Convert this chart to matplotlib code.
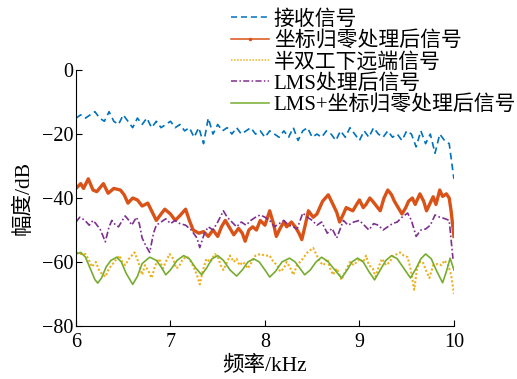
import matplotlib
matplotlib.use("Agg")
import matplotlib.pyplot as plt

plt.rcParams['font.family'] = ['Liberation Serif', 'Noto Sans CJK SC']
plt.rcParams['axes.unicode_minus'] = True

# 接收信号
f_rx = [6.00, 6.05, 6.10, 6.15, 6.20, 6.25, 6.30, 6.35, 6.40, 6.45, 6.50, 6.55, 6.60, 6.65,
        6.70, 6.75, 6.80, 6.85, 6.90, 6.95, 7.00, 7.05, 7.10, 7.15, 7.20, 7.25, 7.30, 7.35,
        7.40, 7.45, 7.50, 7.55, 7.60, 7.65, 7.70, 7.75, 7.80, 7.85, 7.90, 7.95, 8.00, 8.05,
        8.10, 8.15, 8.20, 8.25, 8.30, 8.35, 8.40, 8.45, 8.50, 8.55, 8.60, 8.65, 8.70, 8.75,
        8.80, 8.85, 8.90, 8.95, 9.00, 9.05, 9.10, 9.15, 9.20, 9.25, 9.30, 9.35, 9.40, 9.45,
        9.50, 9.55, 9.60, 9.65, 9.70, 9.75, 9.80, 9.85, 9.90, 9.95, 10.0]
rx = [-15, -14, -15, -14, -13, -15, -16, -13, -16, -17, -14, -16, -18, -15,
      -17, -15, -18, -16, -18, -17, -16, -18, -17, -19, -18, -21, -18, -23,
      -15, -20, -17, -19, -18, -20, -18, -20, -19, -18, -20, -19, -21, -19,
      -20, -21, -19, -21, -18, -22, -19, -18, -21, -20, -21, -19, -20, -22,
      -19, -21, -18, -20, -22, -19, -21, -18, -20, -21, -19, -21, -20, -22,
      -19, -20, -24, -19, -23, -20, -26, -20, -22, -23, -34]

# 坐标归零处理后信号
f_cz = [6.00, 6.05, 6.08, 6.13, 6.18, 6.22, 6.29, 6.34, 6.40, 6.47, 6.51, 6.55, 6.60, 6.65,
        6.70, 6.76, 6.80, 6.85, 6.90, 6.94, 7.00, 7.05, 7.10, 7.16, 7.20, 7.24, 7.30, 7.35,
        7.40, 7.45, 7.50, 7.54, 7.58, 7.62, 7.67, 7.72, 7.76, 7.79, 7.83, 7.87, 7.91, 7.95,
        8.00, 8.05, 8.09, 8.12, 8.16, 8.20, 8.23, 8.28, 8.32, 8.36, 8.39, 8.43, 8.46, 8.51,
        8.55, 8.58, 8.61, 8.67, 8.72, 8.76, 8.79, 8.83, 8.86, 8.93, 8.97, 9.00, 9.04, 9.07,
        9.11, 9.14, 9.18, 9.22, 9.26, 9.30, 9.34, 9.37, 9.41, 9.45, 9.49, 9.52, 9.56, 9.59,
        9.64, 9.68, 9.71, 9.75, 9.78, 9.81, 9.85, 9.88, 9.92, 9.95, 9.97, 10.0]
cz = [-37, -35.5, -37, -34, -37.5, -38, -35.5, -38.5, -37, -37.5, -39, -41.6, -40, -40.6,
      -42.5, -41.6, -44, -47, -45, -43.5, -45, -47, -45.5, -43.5, -47, -50, -51, -50.5,
      -52, -50, -52, -49, -47, -49, -51.5, -49.5, -51, -53.5, -50, -49, -50, -47,
      -48.5, -44, -48, -52, -49.5, -47.5, -49, -47.5, -49, -51, -53, -48, -44, -46,
      -45, -43, -41, -39, -42, -44.5, -47.5, -45, -43, -44, -42, -40.6, -43, -42,
      -40, -41, -42.5, -44, -40, -37.5, -39, -41, -43, -45, -43, -41, -40, -42,
      -38.7, -41, -44, -41.5, -39.6, -42, -37.5, -39.5, -38.7, -40, -44, -52]

# 半双工下远端信号
f_hd = [6.00, 6.05, 6.10, 6.13, 6.17, 6.21, 6.25, 6.31, 6.35, 6.38, 6.42, 6.46, 6.49, 6.52,
        6.56, 6.59, 6.62, 6.66, 6.70, 6.73, 6.77, 6.80, 6.84, 6.88, 6.92, 6.95, 6.99, 7.03,
        7.06, 7.09, 7.13, 7.18, 7.22, 7.25, 7.28, 7.31, 7.34, 7.38, 7.42, 7.47, 7.51, 7.53,
        7.56, 7.60, 7.63, 7.67, 7.70, 7.73, 7.77, 7.82, 7.86, 7.90, 7.95, 8.00, 8.05, 8.09,
        8.13, 8.16, 8.20, 8.23, 8.27, 8.30, 8.34, 8.37, 8.40, 8.45, 8.51, 8.55, 8.58, 8.62,
        8.66, 8.69, 8.72, 8.76, 8.81, 8.85, 8.90, 8.94, 8.97, 9.00, 9.04, 9.07, 9.10, 9.14,
        9.17, 9.21, 9.24, 9.28, 9.32, 9.36, 9.40, 9.43, 9.47, 9.51, 9.54, 9.58, 9.61, 9.64,
        9.67, 9.71, 9.74, 9.78, 9.83, 9.87, 9.90, 9.94, 9.97, 10.0]
hd = [-57, -57.5, -57.5, -59, -61.5, -60, -63, -64.6, -62, -61, -59.4, -58, -60, -61,
      -59, -58, -57, -60, -64, -61, -63, -65, -61, -59, -62, -60, -57.5, -59,
      -62, -61.5, -59, -58.5, -60, -62, -64, -67, -63, -59, -60, -57.5, -59, -61,
      -62.5, -60, -58, -60, -59, -61, -60, -62, -60, -58, -57.5, -58, -58, -60,
      -61, -63, -62, -60, -62, -64, -61, -60, -59, -57, -55.6, -58, -60, -61,
      -59, -62, -64, -62, -65.6, -63, -60, -61, -60, -59, -60, -58, -61, -62,
      -64.6, -61, -59, -61, -60, -58, -57.5, -57, -58, -58.5, -62, -68.7, -62, -60,
      -60, -63, -65, -61, -60.6, -61, -59.5, -61, -64, -70]

# LMS处理后信号
f_lms = [6.00, 6.04, 6.07, 6.11, 6.14, 6.18, 6.21, 6.26, 6.31, 6.35, 6.38, 6.42, 6.45, 6.49,
         6.52, 6.56, 6.59, 6.64, 6.67, 6.70, 6.74, 6.78, 6.82, 6.85, 6.90, 6.95, 7.00, 7.05,
         7.10, 7.16, 7.22, 7.28, 7.31, 7.36, 7.40, 7.45, 7.50, 7.56, 7.60, 7.65, 7.70, 7.75,
         7.80, 7.85, 7.90, 7.95, 8.00, 8.05, 8.10, 8.15, 8.20, 8.25, 8.30, 8.34, 8.40, 8.45,
         8.50, 8.55, 8.60, 8.66, 8.71, 8.76, 8.83, 8.88, 8.94, 9.00, 9.05, 9.10, 9.15, 9.20,
         9.25, 9.30, 9.35, 9.40, 9.45, 9.51, 9.55, 9.60, 9.65, 9.70, 9.75, 9.80, 9.85, 9.90,
         9.95, 9.99]
lms = [-47.5, -46, -46.5, -47.5, -48.5, -47, -48, -50, -53.7, -49, -47, -48.5, -49, -47,
       -45.6, -47, -48.5, -46, -48, -52.5, -55, -57, -51, -48.5, -47.5, -46.5, -48, -47,
       -48, -48.5, -50, -52.5, -55.5, -51, -49, -50, -47.5, -44, -46, -47.5, -49, -47.5,
       -48.5, -47, -46, -45.3, -46, -47, -49, -48, -47, -48.5, -49, -49.7, -44.7, -46,
       -47, -48.5, -47.5, -51, -49.5, -52.5, -47, -48.5, -47.5, -47, -48.5, -50, -48, -48.5,
       -50, -49, -48, -47.5, -46, -44.7, -47, -52, -50, -49.7, -48.5, -45.3, -46, -46.4,
       -47, -59]

# LMS+坐标归零处理后信号
f_lc = [6.00, 6.05, 6.10, 6.15, 6.20, 6.23, 6.27, 6.32, 6.37, 6.43, 6.48, 6.53, 6.60, 6.65,
        6.70, 6.78, 6.85, 6.90, 6.95, 7.00, 7.07, 7.14, 7.20, 7.27, 7.33, 7.38, 7.44, 7.50,
        7.56, 7.63, 7.70, 7.76, 7.82, 7.88, 7.94, 8.00, 8.05, 8.11, 8.18, 8.26, 8.32, 8.37,
        8.42, 8.48, 8.54, 8.60, 8.67, 8.74, 8.81, 8.87, 8.92, 8.98, 9.04, 9.10, 9.16, 9.22,
        9.28, 9.34, 9.40, 9.47, 9.54, 9.60, 9.65, 9.70, 9.76, 9.82, 9.88, 9.92, 9.96, 10.0]
lc = [-57.5, -57, -58.5, -62, -65.5, -66.6, -65, -61.5, -59.5, -58.5, -60, -63.5, -67, -64.5,
      -60.5, -58.5, -59.5, -61.5, -64, -62.5, -59.5, -58, -59, -62, -64, -62, -59, -58,
      -59.5, -62.5, -64.4, -62.5, -60, -59, -60, -62.5, -64.7, -63, -60, -58.8, -60, -62,
      -64, -62.5, -60, -58.5, -60, -62.5, -65, -62.5, -60, -58.8, -60, -63, -65.6, -62.5,
      -59.5, -58, -59, -62, -65, -62, -59, -57.5, -59, -63, -66.5, -63, -58.8, -62.5]

labels = ['接收信号', '坐标归零处理后信号', '半双工下远端信号', 'LMS处理后信号', 'LMS+坐标归零处理后信号']
x_ticks = [6, 7, 8, 9, 10]
y_ticks = [-80, -60, -40, -20, 0]

fig = plt.figure(figsize=(5.17, 3.79), dpi=100)
ax = fig.add_axes([0.147, 0.14, 0.731, 0.675])

ax.plot(f_rx, rx, color='#0072BD', linestyle=(0, (4, 2.5)), linewidth=1.2, label=labels[0])
ax.plot(f_cz, cz, color='#D95319', linestyle='-', linewidth=2.4, label=labels[1])
ax.plot(f_hd, hd, color='#EDB120', linestyle=(0, (1, 1)), linewidth=1.5, label=labels[2])
ax.plot(f_lms, lms, color='#7E2F8E', linestyle=(0, (4, 1.5, 1, 1.5)), linewidth=1.2, label=labels[3])
ax.plot(f_lc, lc, color='#77AC30', linestyle='-', linewidth=1.2, label=labels[4])

ax.set_xlim(6, 10)
ax.set_ylim(-80, 0)
ax.set_xticks(x_ticks)
ax.set_yticks(y_ticks)
ax.tick_params(direction='in', labelsize=14.5, length=4, width=0.8)
ax.tick_params(axis='x', pad=5)
ax.tick_params(axis='y', pad=2)
for s in ['top', 'right']:
    ax.spines[s].set_visible(False)
ax.set_xlabel('频率/kHz', fontsize=15.5, labelpad=3)
ax.set_ylabel('幅度/dB', fontsize=15.5, labelpad=6)

handles, labs = ax.get_legend_handles_labels()
leg = fig.legend(handles, labs, loc='upper left', bbox_to_anchor=(0.443, 0.979), frameon=False,
                 fontsize=15, handlelength=1.8, handletextpad=0.25, labelspacing=0.07,
                 borderpad=0.1, borderaxespad=0.0)
for h in leg.legend_handles:
    h.set_linewidth(1.1)
leg.legend_handles[1].set_marker('.')
leg.legend_handles[1].set_markersize(3)
leg.legend_handles[1].set_markevery([1])

fig.savefig('out.png', dpi=100)
